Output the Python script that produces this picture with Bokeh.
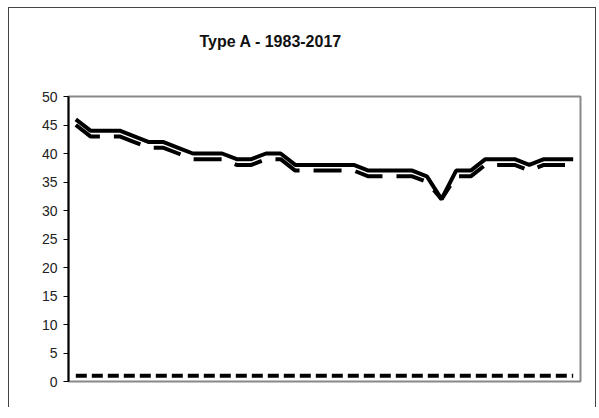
from bokeh.plotting import figure
from bokeh.models import FixedTicker, Range1d, Title
from bokeh.embed import file_html
from bokeh.resources import INLINE

years = list(range(1983, 2018))
solid_vals = [46, 44, 44, 44, 43, 42, 42, 41, 40, 40, 40, 39, 39, 40, 40, 38, 38, 38, 38, 38,
              37, 37, 37, 37, 36, 32, 37, 37, 39, 39, 39, 38, 39, 39, 39]
dashed_vals = [45, 43, 43, 43, 42, 41, 41, 40, 39, 39, 39, 38, 38, 39, 39, 37, 37, 37, 37, 37,
               36, 36, 36, 36, 35, 32, 36, 36, 38, 38, 38, 37, 38, 38, 38]
low_vals = [1] * 35
y_ticks = [0, 5, 10, 15, 20, 25, 30, 35, 40, 45, 50]
title_text = "Type A - 1983-2017"

idx = list(range(len(years)))

p = figure(width=588, height=400, output_backend="svg", toolbar_location=None,
           x_range=Range1d(-0.5, len(years) - 0.5), y_range=Range1d(0, 50),
           min_border_left=59, min_border_right=17, min_border_top=88, min_border_bottom=27,
           styles={"margin-left": "8px", "margin-top": "7px",
                   "border-left": "1px solid #444", "border-top": "1px solid #444",
                   "border-right": "1px solid #444"})

# built-in title left empty (takes no space)
p.title.text = ""

# spacer panel closest to the frame (blank white text), then the visible title above it
p.add_layout(Title(text=" ", text_color="white", text_font_size="1px", standoff=44), "above")
p.add_layout(Title(text=title_text, align="left", offset=131, standoff=0,
                   text_font="Liberation Sans", text_font_size="16px",
                   text_font_style="bold", text_color="#111"), "above")

p.line(idx, solid_vals, line_color="black", line_width=4)
p.line(idx, dashed_vals, line_color="black", line_width=4, line_dash="28 14")
p.line(idx, low_vals, line_color="black", line_width=4, line_dash="11 5")

p.xgrid.visible = False
p.ygrid.visible = False
p.xaxis.visible = False

p.yaxis.ticker = FixedTicker(ticks=y_ticks)
p.yaxis.minor_tick_line_color = None
p.yaxis.major_tick_out = 5
p.yaxis.major_tick_in = 0
p.yaxis.major_tick_line_color = "black"
p.yaxis.axis_line_color = "black"
p.yaxis.axis_line_width = 2
p.yaxis.major_label_standoff = 6
p.yaxis.major_label_text_font = "Liberation Sans"
p.yaxis.major_label_text_font_size = "14px"
p.yaxis.major_label_text_color = "#222"

p.outline_line_color = "#888"
p.outline_line_width = 2
p.background_fill_color = "white"
p.border_fill_color = "white"

open("out.html", "w").write(file_html(p, INLINE))
